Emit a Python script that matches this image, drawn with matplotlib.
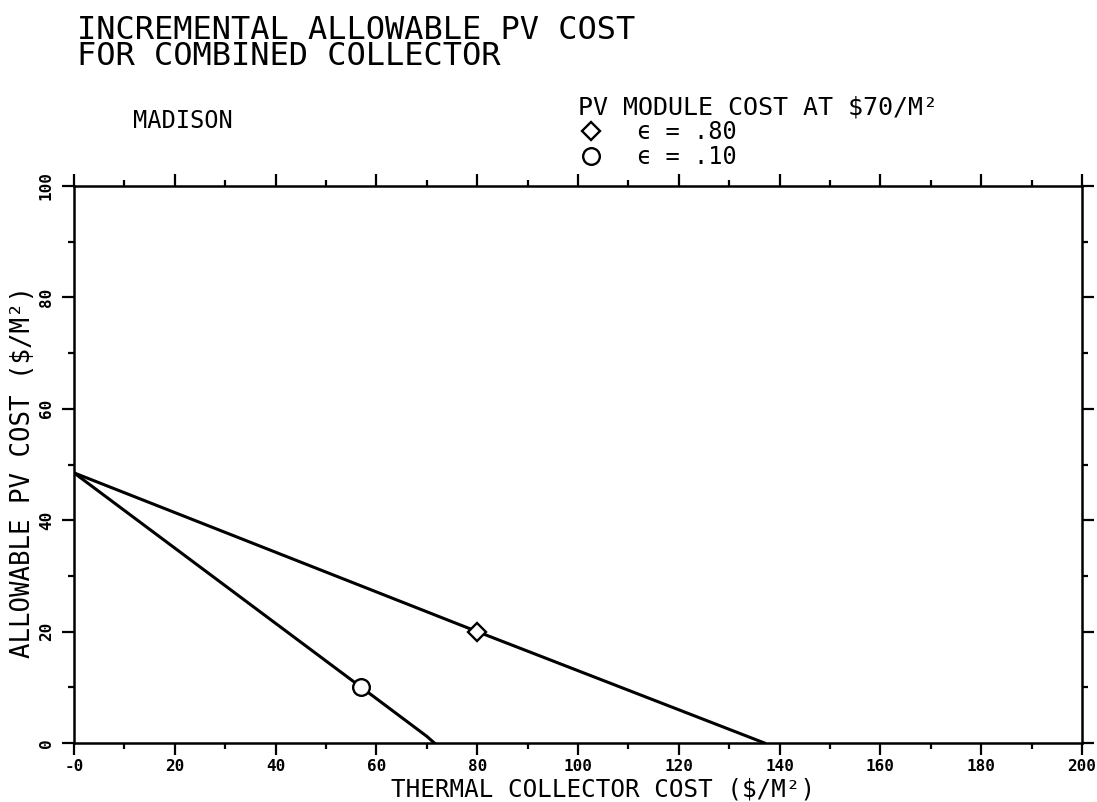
import matplotlib.pyplot as plt

# values
upper_x = [0, 80, 137]          # eps = .80 (diamond)
upper_y = [48.5, 20, 0]
lower_x = [0, 57, 70, 71.5]     # eps = .10 (circle)
lower_y = [48.5, 10, 1.2, 0]

x_ticks = [0, 20, 40, 60, 80, 100, 120, 140, 160, 180, 200]
x_labels = ['-0', '20', '40', '60', '80', '100', '120', '140', '160', '180', '200']
y_ticks = [0, 20, 40, 60, 80, 100]
y_labels = ['0', '20', '40', '60', '80', '100']
x_minor = [10, 30, 50, 70, 90, 110, 130, 150, 170, 190]
y_minor = [10, 30, 50, 70, 90]

mono = ['DejaVu Sans Mono', 'DejaVu Sans']
W, H = 1097, 802


def fx(px):
    return px / W


def fy(py):
    return 1 - py / H


fig = plt.figure(figsize=(10.97, 8.02), dpi=100)
ax = fig.add_axes([fx(74), fy(743), fx(1082) - fx(74), fy(186) - fy(743)])

ax.plot(upper_x, upper_y, color='black', lw=2.2)
ax.plot(lower_x, lower_y, color='black', lw=2.2)
ax.plot(upper_x[1], upper_y[1], ls='none', marker='D', ms=9.5, mfc='white',
        mec='black', mew=1.7, label='\u03f5 = .80')
ax.plot(lower_x[1], lower_y[1], ls='none', marker='o', ms=12, mfc='white',
        mec='black', mew=1.7, label='\u03f5 = .10')

ax.set_xlim(0, 200)
ax.set_ylim(0, 100)
ax.set_xticks(x_ticks)
ax.set_xticklabels(x_labels, family=mono, fontsize=11.5, fontweight='bold')
ax.set_yticks(y_ticks)
ax.set_yticklabels(y_labels, family=mono, fontsize=11.5, fontweight='bold',
                   rotation=90, va='center')
ax.set_xticks(x_minor, minor=True)
ax.set_yticks(y_minor, minor=True)
ax.tick_params(which='both', direction='out', top=True, right=True,
               width=1.6, color='black')
ax.tick_params(which='major', length=8.5)
ax.tick_params(which='minor', length=4)
ax.tick_params(axis='x', pad=3)
ax.tick_params(axis='y', pad=6)
for sp in ax.spines.values():
    sp.set_linewidth(1.8)

ax.set_xlabel('THERMAL COLLECTOR COST (\\$/M\u00b2)', family=mono, fontsize=17.5)
ax.xaxis.set_label_coords((603 - 74) / 1008, (743 - 778) / 557)
ax.set_ylabel('ALLOWABLE PV COST (\\$/M\u00b2)', family=mono, fontsize=18.5)
ax.yaxis.set_label_coords((36 - 74) / 1008, (743 - 472) / 557)

fig.text(fx(77), fy(65), 'INCREMENTAL ALLOWABLE PV COST\nFOR COMBINED COLLECTOR',
         family=mono, fontsize=23, va='baseline', linespacing=0.78)
fig.text(fx(133), fy(128), 'MADISON', family=mono, fontsize=17,
         va='baseline')

leg = ax.legend(loc='upper left', bbox_to_anchor=(fx(578), fy(95)),
                bbox_transform=fig.transFigure, frameon=False, numpoints=1,
                title='PV MODULE COST AT \\$70/M\u00b2', alignment='left',
                prop={'family': mono, 'size': 17},
                title_fontproperties={'family': mono, 'size': 18},
                borderpad=0, borderaxespad=0, handlelength=1.1,
                handletextpad=1.4, labelspacing=0.05)

fig.savefig('out.png', dpi=100)
